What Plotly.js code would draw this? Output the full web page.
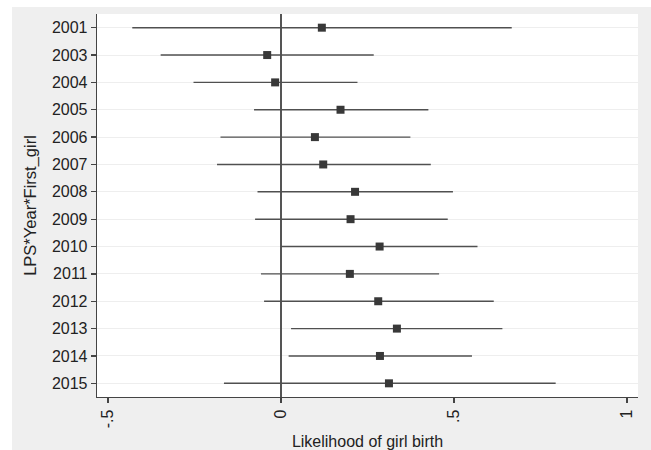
<!DOCTYPE html>
<html>
<head>
<meta charset="utf-8">
<script src="https://cdn.plot.ly/plotly-3.0.1.min.js"></script>
<style>
  html, body { margin: 0; padding: 0; background: #ffffff; }
  #chart { position: absolute; left: 12px; top: 7px; width: 639px; height: 443px; }
</style>
</head>
<body>
<div id="chart"></div>
<script>
// Data
var years = ["2001","2003","2004","2005","2006","2007","2008","2009","2010","2011","2012","2013","2014","2015"];
var coef  = [0.118, -0.040, -0.017, 0.172, 0.098, 0.122, 0.214, 0.201, 0.285, 0.199, 0.281, 0.335, 0.286, 0.312];
var lower = [-0.430, -0.348, -0.253, -0.078, -0.175, -0.185, -0.068, -0.075, 0.000, -0.058, -0.049, 0.029, 0.022, -0.165];
var upper = [0.667, 0.268, 0.221, 0.426, 0.374, 0.433, 0.497, 0.482, 0.568, 0.457, 0.615, 0.640, 0.552, 0.794];
var xTickVals = [-0.5, 0, 0.5, 1];
var xTickText = ["-.5", "0", ".5", "1"];

var plus = upper.map(function (u, i) { return u - coef[i]; });
var minus = lower.map(function (l, i) { return coef[i] - l; });

var trace = {
  type: "scatter",
  mode: "markers",
  x: coef,
  y: years,
  marker: { symbol: "square", size: 8, color: "#383838" },
  error_x: {
    type: "data",
    symmetric: false,
    array: plus,
    arrayminus: minus,
    width: 0,
    thickness: 1.4,
    color: "#505050"
  },
  hoverinfo: "x+y"
};

var font = "Liberation Sans, Arial, Helvetica, sans-serif";

var layout = {
  width: 639,
  height: 443,
  margin: { l: 85, r: 13, t: 7, b: 53 },
  paper_bgcolor: "#efefef",
  plot_bgcolor: "#ffffff",
  showlegend: false,
  font: { family: font, size: 16, color: "#222222" },
  xaxis: {
    range: [-0.532, 1.032],
    tickvals: xTickVals,
    ticktext: xTickText,
    tickangle: -90,
    ticks: "outside",
    ticklen: 5,
    tickwidth: 1.3,
    tickcolor: "#444444",
    showline: true,
    linecolor: "#444444",
    linewidth: 1.3,
    mirror: false,
    showgrid: false,
    zeroline: true,
    zerolinecolor: "#555555",
    zerolinewidth: 1.3,
    tickfont: { size: 16, family: font, color: "#222222" },
    title: { text: "Likelihood of girl birth", font: { size: 16, family: font, color: "#222222" }, standoff: 8 },
    fixedrange: true
  },
  yaxis: {
    type: "category",
    categoryorder: "array",
    categoryarray: years,
    range: [13.5, -0.5],
    ticks: "outside",
    ticklen: 5,
    tickwidth: 1.3,
    tickcolor: "#444444",
    showline: true,
    linecolor: "#444444",
    linewidth: 1.3,
    showgrid: true,
    gridcolor: "#eeeeee",
    gridwidth: 1,
    zeroline: false,
    tickfont: { size: 16, family: font, color: "#222222" },
    title: { text: "LPS*Year*First_girl", font: { size: 16.5, family: font, color: "#222222" }, standoff: 11 },
    fixedrange: true
  }
};

Plotly.newPlot("chart", [trace], layout, { displayModeBar: false, staticPlot: true });
</script>
</body>
</html>
